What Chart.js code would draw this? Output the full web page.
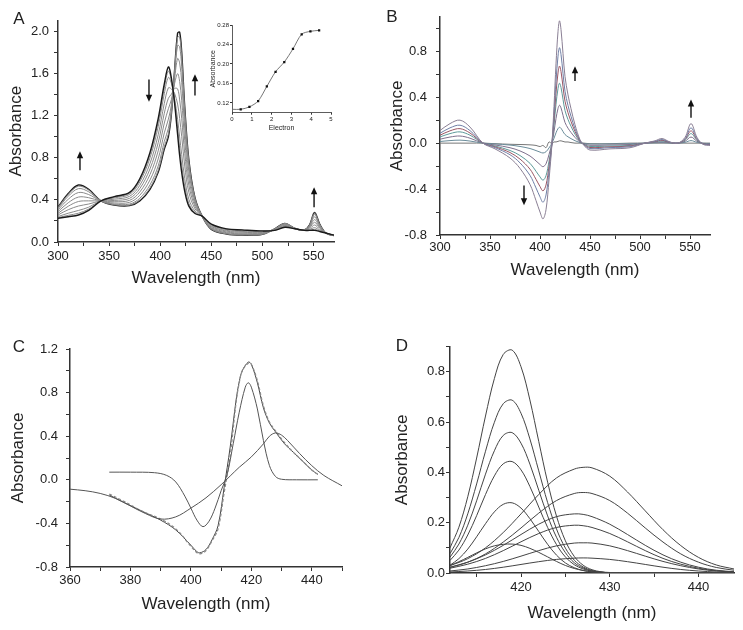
<!DOCTYPE html>
<html>
<head>
<meta charset="utf-8">
<script src="https://cdn.jsdelivr.net/npm/chart.js@4.4.1/dist/chart.umd.min.js"></script>
<style>
  html, body { margin: 0; padding: 0; background: #fff; }
  #sheet { position: relative; width: 743px; height: 630px; overflow: hidden; background: #fff; }
  #sheet canvas { position: absolute; }
</style>
</head>
<body>
<div id="sheet">
  <canvas id="panelA" width="350" height="300" style="left:0;top:0"></canvas>
  <canvas id="panelB" width="373" height="300" style="left:370px;top:0"></canvas>
  <canvas id="panelC" width="370" height="330" style="left:0;top:300px"></canvas>
  <canvas id="panelD" width="373" height="330" style="left:370px;top:300px"></canvas>
  <canvas id="inset" width="140" height="130" style="left:200px;top:10px"></canvas>
</div>
<script>
// ---- panel A: titration spectra ----
const aWave = [300,310,320,330,342,355,370,380,390,398,404,408,411,414,417,419,421,424,428,434,441,450,465,480,500,512,522,532,541,546,551,556,562,570];
const aStart = [0.225,0.24,0.256,0.30,0.39,0.43,0.47,0.60,0.85,1.17,1.50,1.66,1.55,1.32,1.02,0.82,0.66,0.48,0.34,0.27,0.245,0.17,0.125,0.115,0.105,0.11,0.14,0.125,0.11,0.11,0.11,0.10,0.085,0.065];
const aStep1 = [0.231,0.253,0.273,0.312,0.39,0.425,0.463,0.587,0.829,1.139,1.463,1.620,1.530,1.338,1.078,0.890,0.728,0.528,0.366,0.279,0.245,0.167,0.122,0.112,0.103,0.111,0.142,0.125,0.11,0.113,0.120,0.104,0.085,0.065];
const aStep2 = [0.241,0.273,0.299,0.330,0.39,0.418,0.451,0.569,0.798,1.094,1.407,1.561,1.501,1.365,1.164,0.996,0.831,0.600,0.406,0.293,0.245,0.163,0.118,0.108,0.100,0.112,0.146,0.125,0.111,0.118,0.136,0.111,0.085,0.064];
const aStep3 = [0.257,0.306,0.341,0.360,0.39,0.406,0.433,0.537,0.745,1.017,1.314,1.462,1.451,1.410,1.308,1.171,1.002,0.720,0.472,0.315,0.245,0.155,0.110,0.100,0.095,0.115,0.151,0.126,0.112,0.125,0.161,0.121,0.085,0.064];
const aStep4 = [0.272,0.339,0.384,0.390,0.39,0.394,0.414,0.506,0.693,0.941,1.221,1.363,1.402,1.455,1.452,1.347,1.173,0.840,0.538,0.338,0.245,0.148,0.103,0.093,0.090,0.117,0.157,0.126,0.112,0.133,0.187,0.132,0.085,0.063];
const aStep5 = [0.288,0.372,0.426,0.420,0.39,0.382,0.395,0.474,0.640,0.864,1.128,1.264,1.352,1.500,1.596,1.522,1.344,0.960,0.604,0.360,0.245,0.140,0.095,0.085,0.085,0.119,0.162,0.127,0.113,0.140,0.212,0.142,0.085,0.062];
const aStep6 = [0.304,0.405,0.469,0.450,0.39,0.370,0.376,0.443,0.588,0.788,1.035,1.165,1.303,1.545,1.740,1.698,1.515,1.080,0.670,0.383,0.245,0.133,0.088,0.078,0.080,0.121,0.168,0.127,0.114,0.148,0.238,0.153,0.085,0.061];
const aStep7 = [0.317,0.434,0.506,0.476,0.39,0.360,0.360,0.415,0.542,0.721,0.954,1.079,1.260,1.584,1.865,1.850,1.663,1.184,0.727,0.402,0.245,0.126,0.081,0.071,0.076,0.123,0.173,0.128,0.114,0.154,0.260,0.162,0.085,0.061];
const aStep8 = [0.326,0.451,0.529,0.492,0.39,0.353,0.350,0.398,0.514,0.680,0.905,1.026,1.233,1.608,1.942,1.943,1.754,1.248,0.762,0.414,0.245,0.122,0.077,0.067,0.073,0.124,0.176,0.128,0.115,0.158,0.273,0.167,0.085,0.060];
const aEnd = [0.33,0.46,0.54,0.50,0.39,0.35,0.345,0.39,0.50,0.66,0.88,1.00,1.22,1.62,1.98,1.99,1.80,1.28,0.78,0.42,0.245,0.12,0.075,0.065,0.072,0.125,0.177,0.128,0.115,0.16,0.28,0.17,0.085,0.06];
const aXTicks = [300,325,350,375,400,425,450,475,500,525,550];
const aXLabels = [300,350,400,450,500,550];
const aYTicks = [0,0.2,0.4,0.6,0.8,1.0,1.2,1.4,1.6,1.8,2.0];
const aYLabels = [0,0.4,0.8,1.2,1.6,2.0];
const aArrows = [[321.5, 0.68, 0.86], [389, 1.54, 1.33], [434, 1.39, 1.59], [550.5, 0.33, 0.52]];

// ---- inset of A ----
const insetElectron = [0, 0.44, 0.88, 1.32, 1.76, 2.2, 2.64, 3.08, 3.52, 3.96, 4.4];
const insetAbs = [0.107, 0.107, 0.112, 0.124, 0.154, 0.184, 0.204, 0.231, 0.261, 0.267, 0.269];
const insetXTicks = [0, 1, 2, 3, 4, 5];
const insetYTicks = [0.12, 0.16, 0.20, 0.24, 0.28];

// ---- panel B: difference spectra ----
const bWave = [300,310,320,330,343,355,370,380,390,396,400,403,406,409,412,414,416,418,419.5,421,423,425,428,431,435,440,444,450,470,490,505,515,522,530,538,545,551,557,563,570];
const bDiff1 = [0.11,0.17,0.20,0.14,0.0,-0.05,-0.13,-0.22,-0.36,-0.50,-0.60,-0.66,-0.58,-0.32,0.0,0.32,0.69,0.97,1.065,0.99,0.78,0.58,0.42,0.30,0.16,0.03,-0.02,-0.06,-0.05,-0.04,0.0,0.02,0.04,0.01,0.0,0.05,0.17,0.05,-0.01,-0.02];
const bDiff2 = [0.086,0.133,0.156,0.109,0.0,-0.039,-0.101,-0.172,-0.281,-0.39,-0.468,-0.515,-0.452,-0.25,0.0,0.25,0.538,0.757,0.831,0.772,0.608,0.452,0.328,0.234,0.125,0.023,-0.016,-0.047,-0.039,-0.031,0.0,0.016,0.031,0.008,0.0,0.039,0.133,0.039,-0.008,-0.016];
const bDiff3 = [0.069,0.107,0.126,0.088,0.0,-0.032,-0.082,-0.139,-0.227,-0.315,-0.378,-0.416,-0.365,-0.202,0.0,0.202,0.435,0.611,0.671,0.624,0.491,0.365,0.265,0.189,0.101,0.019,-0.013,-0.038,-0.032,-0.025,0.0,0.013,0.025,0.006,0.0,0.032,0.107,0.032,-0.006,-0.013];
const bDiff4 = [0.054,0.083,0.098,0.069,0.0,-0.025,-0.064,-0.108,-0.176,-0.245,-0.294,-0.323,-0.284,-0.157,0.0,0.157,0.338,0.475,0.522,0.485,0.382,0.284,0.206,0.147,0.078,0.015,-0.01,-0.029,-0.025,-0.02,0.0,0.01,0.02,0.005,0.0,0.025,0.083,0.025,-0.005,-0.01];
const bDiff5 = [0.034,0.053,0.062,0.043,0.0,-0.016,-0.04,-0.068,-0.112,-0.155,-0.186,-0.205,-0.18,-0.099,0.0,0.099,0.214,0.301,0.33,0.307,0.242,0.18,0.13,0.093,0.05,0.009,-0.006,-0.019,-0.016,-0.012,0.0,0.006,0.012,0.003,0.0,0.016,0.053,0.016,-0.003,-0.006];
const bDiff6 = [0.014,0.022,0.026,0.018,0.0,-0.007,-0.017,-0.029,-0.047,-0.065,-0.078,-0.086,-0.075,-0.042,0.0,0.042,0.09,0.126,0.138,0.129,0.101,0.075,0.055,0.039,0.021,0.004,-0.003,-0.008,-0.007,-0.005,0.0,0.003,0.005,0.001,0.0,0.007,0.022,0.007,-0.001,-0.003];
const bDiff7 = [0.0,0.0,0.0,0.0,0.0,-0.005,-0.01,-0.012,-0.015,-0.02,-0.03,-0.02,-0.04,0.01,-0.005,0.01,0.01,0.015,0.02,0.02,0.015,0.01,0.01,0.005,0.0,0.0,0.0,-0.005,-0.005,0.0,0,0,0,0,0,0,0,0,0,0];
const bColors = ['#8a7f94', '#6f7fa6', '#9a5664', '#5e9a9a', '#7e6f8c', '#6a8c9a', '#777777'];
const bXTicks = [300,325,350,375,400,425,450,475,500,525,550];
const bXLabels = [300,350,400,450,500,550];
const bYTicks = [-0.8,-0.6,-0.4,-0.2,0,0.2,0.4,0.6,0.8,1.0];
const bYLabels = [-0.8,-0.4,0,0.4,0.8];
const bArrows = [[435, 0.54, 0.67], [384, -0.37, -0.54], [551, 0.22, 0.38]];

// ---- panel C: deconvolution ----
const cWideWave = [360,365,370,375,380,385,390,395,400,405,410,413,416,420,424,426,428,430,432,436,440,444,450];
const cWide = [-0.086,-0.10,-0.125,-0.17,-0.24,-0.31,-0.36,-0.34,-0.26,-0.165,-0.045,0.035,0.115,0.21,0.33,0.40,0.43,0.41,0.36,0.24,0.13,0.04,-0.055];
const cNarrowWave = [373,380,388,392,395,398,400,402,404,406,408,410,412,414,416,418,419,420,422,424,426,428,430,435,442];
const cNarrow = [0.07,0.07,0.065,0.04,-0.02,-0.15,-0.26,-0.37,-0.43,-0.38,-0.26,-0.10,0.05,0.33,0.62,0.85,0.89,0.85,0.65,0.36,0.13,0.03,0.005,0,0];
const cSumWave = [373,378,384,390,395,400,402,403,405,407,409,411,413,415,416,417,419,420,422,424,426,428,431,434,437,440,442];
const cSum = [-0.14,-0.21,-0.29,-0.37,-0.46,-0.60,-0.66,-0.67,-0.64,-0.55,-0.42,-0.07,0.30,0.74,0.90,1.00,1.08,1.06,0.89,0.66,0.52,0.44,0.33,0.25,0.17,0.09,0.05];
const cMeasured = [-0.13,-0.20,-0.29,-0.36,-0.45,-0.61,-0.67,-0.68,-0.65,-0.56,-0.45,-0.12,0.22,0.72,0.89,1.00,1.07,1.06,0.91,0.68,0.53,0.45,0.34,0.25,0.17,0.09,0.05];
const cXTicks = [360,370,380,390,400,410,420,430,440,450];
const cXLabels = [360,380,400,420,440];
const cYTicks = [-0.8,-0.6,-0.4,-0.2,0,0.2,0.4,0.6,0.8,1.0,1.2];
const cYLabels = [-0.8,-0.4,0,0.4,0.8,1.2];

// ---- panel D: component bands ----
const dNarrowWave = [412,413,414,415,416,417,418,419,420,421,422,423,424,425,426,427,428,429,430,434,444];
const dNarrow1 = [0.100,0.182,0.303,0.457,0.624,0.773,0.869,0.886,0.820,0.688,0.523,0.361,0.226,0.128,0.066,0.031,0.013,0.005,0.002,0,0];
const dNarrow2 = [0.077,0.141,0.235,0.354,0.484,0.599,0.673,0.687,0.635,0.533,0.406,0.280,0.175,0.099,0.051,0.024,0.010,0.004,0.001,0,0];
const dNarrow3 = [0.063,0.115,0.190,0.287,0.393,0.486,0.547,0.558,0.516,0.433,0.329,0.227,0.142,0.081,0.041,0.020,0.008,0.003,0.001,0,0];
const dNarrow4 = [0.050,0.091,0.151,0.228,0.312,0.386,0.434,0.443,0.410,0.344,0.262,0.181,0.113,0.064,0.033,0.016,0.007,0.003,0.001,0,0];
const dNarrow5 = [0.031,0.057,0.095,0.144,0.196,0.243,0.273,0.279,0.258,0.216,0.165,0.114,0.071,0.040,0.021,0.010,0.004,0.002,0.001,0,0];
const dNarrow6 = [0.030,0.045,0.062,0.080,0.096,0.108,0.114,0.115,0.110,0.098,0.082,0.064,0.046,0.030,0.018,0.010,0.005,0.002,0.001,0,0];
const dWideWave = [412,414,416,418,420,422,424,426,427,428,430,432,434,436,438,440,442,444];
const dWide1 = [0.029,0.057,0.100,0.161,0.235,0.312,0.378,0.413,0.420,0.418,0.385,0.322,0.247,0.172,0.109,0.062,0.032,0.016];
const dWide2 = [0.022,0.043,0.076,0.123,0.179,0.238,0.288,0.316,0.320,0.316,0.288,0.238,0.179,0.123,0.076,0.043,0.022,0.011];
const dWide3 = [0.023,0.043,0.072,0.110,0.153,0.194,0.224,0.235,0.233,0.224,0.194,0.153,0.110,0.072,0.043,0.023,0.011,0.005];
const dWide4 = [0.019,0.035,0.058,0.089,0.124,0.157,0.181,0.190,0.188,0.181,0.157,0.124,0.089,0.058,0.035,0.019,0.009,0.004];
const dWide5 = [0.008,0.016,0.029,0.046,0.067,0.089,0.108,0.119,0.120,0.119,0.108,0.089,0.067,0.046,0.029,0.016,0.008,0.004];
const dWide6 = [0.004,0.008,0.014,0.023,0.034,0.045,0.054,0.059,0.060,0.059,0.054,0.045,0.034,0.023,0.014,0.008,0.004,0.002];
const dXTicks = [415,420,425,430,435,440];
const dXLabels = [420,430,440];
const dYTicks = [0,0.1,0.2,0.3,0.4,0.5,0.6,0.7,0.8,0.9];
const dYLabels = [0,0.2,0.4,0.6,0.8];

const AXIS = '#333';
const TEXT = '#222';
Chart.defaults.font.family = 'Arial, "Liberation Sans", Helvetica, sans-serif';
Chart.defaults.color = TEXT;

const pts = (xs, ys) => xs.map((x, i) => ({ x, y: ys[i] }));

function curve(xs, ys, color, width, dash) {
    return {
        data: pts(xs, ys),
        borderColor: color,
        borderWidth: width,
        borderDash: dash || [],
        pointRadius: 0,
        fill: false,
        tension: 0.35
    };
}

function axis(c) {
    return {
        type: 'linear',
        min: c.min,
        max: c.max,
        afterBuildTicks: s => { s.ticks = c.ticks.map(v => ({ value: v })); },
        afterFit: s => { if (s.isHorizontal()) s.height = c.size; else s.width = c.size; },
        grid: { drawOnChartArea: false, drawTicks: true, tickLength: c.tickLen || 4, color: AXIS, lineWidth: 1 },
        border: { display: true, color: AXIS, width: c.border || 1.5 },
        ticks: {
            autoSkip: false,
            maxRotation: 0,
            padding: c.pad,
            font: { size: c.font || 13 },
            color: TEXT,
            callback: v => c.labels.includes(v) ? c.fmt(v) : ''
        },
        title: { display: true, text: c.title, font: { size: c.titleSize || 17 }, color: TEXT, padding: c.titlePad }
    };
}

// letters + arrows, placed through the chart's own scales
const decor = {
    id: 'decor',
    afterDraw(chart, args, o) {
        const { ctx } = chart;
        const x = chart.scales.x, y = chart.scales.y;
        ctx.save();
        if (o.letter) {
            ctx.font = '17px Arial, "Liberation Sans", sans-serif';
            ctx.fillStyle = TEXT;
            ctx.textAlign = 'center';
            ctx.textBaseline = 'middle';
            ctx.fillText(o.letter, o.lx, o.ly);
        }
        (o.arrows || []).forEach(a => {
            const px = x.getPixelForValue(a[0]);
            const y0 = y.getPixelForValue(a[1]);
            const y1 = y.getPixelForValue(a[2]);
            const dir = y1 < y0 ? 1 : -1;
            ctx.strokeStyle = '#111';
            ctx.fillStyle = '#111';
            ctx.lineWidth = 1.4;
            ctx.beginPath();
            ctx.moveTo(px, y0);
            ctx.lineTo(px, y1 + dir * 5);
            ctx.stroke();
            ctx.beginPath();
            ctx.moveTo(px, y1);
            ctx.lineTo(px - 3.2, y1 + dir * 7);
            ctx.lineTo(px + 3.2, y1 + dir * 7);
            ctx.closePath();
            ctx.fill();
        });
        ctx.restore();
    }
};

function makeChart(id, datasets, pad, xAxis, yAxis, deco) {
    return new Chart(document.getElementById(id), {
        type: 'line',
        data: { datasets },
        options: {
            responsive: false,
            animation: false,
            layout: { padding: { top: pad.top, right: pad.right, left: 0, bottom: 0 } },
            scales: { x: xAxis, y: yAxis },
            plugins: { legend: { display: false }, tooltip: { enabled: false }, decor: deco }
        },
        plugins: [decor]
    });
}

const f1 = v => (Math.round(v * 10) / 10).toFixed(1);
const f0 = v => String(v);

// panel A
const aSeries = [aStep1, aStep2, aStep3, aStep4, aStep5, aStep6, aStep7, aStep8];
makeChart('panelA',
    [curve(aWave, aStart, '#1a1a1a', 1.4)]
        .concat(aSeries.map(s => curve(aWave, s, '#8a8a8a', 1)))
        .concat([curve(aWave, aEnd, '#1a1a1a', 1.4)]),
    { top: 20.5, right: 16 },
    axis({ min: 300, max: 570, ticks: aXTicks, labels: aXLabels, fmt: f0, size: 58, pad: 3,
           title: 'Wavelength (nm)', titlePad: { top: 0, bottom: 11.8 } }),
    axis({ min: 0, max: 2.1, ticks: aYTicks, labels: aYLabels, fmt: f1, size: 58, pad: 5,
           title: 'Absorbance', titlePad: { top: 6.5, bottom: 0 } }),
    { letter: 'A', lx: 19, ly: 19, arrows: aArrows });

// inset
new Chart(document.getElementById('inset'), {
    type: 'line',
    data: {
        datasets: [{
            data: pts(insetElectron, insetAbs),
            borderColor: '#666',
            borderWidth: 0.9,
            tension: 0.3,
            pointStyle: 'rect',
            pointRadius: ctx => ctx.dataIndex === 0 ? 0 : 1.6,
            pointBackgroundColor: '#111',
            pointBorderColor: '#111',
            pointBorderWidth: 0
        }]
    },
    options: {
        responsive: false,
        animation: false,
        layout: { padding: { top: 15, right: 9, left: 0, bottom: 0 } },
        scales: {
            x: axis({ min: 0, max: 5, ticks: insetXTicks, labels: insetXTicks, fmt: f0, size: 27.3, pad: 0.7,
                      tickLen: 2, font: 6, border: 0.8, title: 'Electron', titleSize: 7, titlePad: { top: 0, bottom: 7.8 } }),
            y: axis({ min: 0.10, max: 0.28, ticks: insetYTicks, labels: insetYTicks, fmt: v => v.toFixed(2), size: 32, pad: 1,
                      tickLen: 2, font: 6, border: 0.8, title: 'Absorbance', titleSize: 7, titlePad: { top: 8.8, bottom: 0 } })
        },
        plugins: { legend: { display: false }, tooltip: { enabled: false } }
    }
});

// panel B
const bSeries = [bDiff1, bDiff2, bDiff3, bDiff4, bDiff5, bDiff6, bDiff7];
makeChart('panelB',
    bSeries.map((s, i) => curve(bWave, s, bColors[i], 1)),
    { top: 12, right: 33 },
    axis({ min: 300, max: 570, ticks: bXTicks, labels: bXLabels, fmt: f0, size: 65, pad: 0.2,
           title: 'Wavelength (nm)', titlePad: { top: 0, bottom: 19.8 } }),
    axis({ min: -0.8, max: 1.1, ticks: bYTicks, labels: bYLabels, fmt: f1, size: 70, pad: 9,
           title: 'Absorbance', titlePad: { top: 16.8, bottom: 0 } }),
    { letter: 'B', lx: 22, ly: 17, arrows: bArrows });

// panel C
makeChart('panelC',
    [
        curve(cWideWave, cWide, '#555', 1),
        curve(cNarrowWave, cNarrow, '#555', 1),
        curve(cSumWave, cMeasured, '#8a8a8a', 1.2, [3, 2]),
        curve(cSumWave, cSum, '#444', 1)
    ],
    { top: 49, right: 28 },
    axis({ min: 360, max: 450, ticks: cXTicks, labels: cXLabels, fmt: f0, size: 63, pad: 1.2,
           title: 'Wavelength (nm)', titlePad: { top: 0, bottom: 15.8 } }),
    axis({ min: -0.8, max: 1.2, ticks: cYTicks, labels: cYLabels, fmt: f1, size: 70, pad: 8,
           title: 'Absorbance', titlePad: { top: 7.8, bottom: 0 } }),
    { letter: 'C', lx: 19, ly: 47 });

// panel D
const dNarrowSet = [dNarrow1, dNarrow2, dNarrow3, dNarrow4, dNarrow5, dNarrow6];
const dWideSet = [dWide1, dWide2, dWide3, dWide4, dWide5, dWide6];
makeChart('panelD',
    dNarrowSet.map(s => curve(dNarrowWave, s, '#444', 1))
        .concat(dWideSet.map(s => curve(dWideWave, s, '#444', 1))),
    { top: 46.6, right: 9 },
    axis({ min: 412, max: 444, ticks: dXTicks, labels: dXLabels, fmt: f0, size: 57, pad: 2.2,
           title: 'Wavelength (nm)', titlePad: { top: 0, bottom: 6.8 } }),
    axis({ min: 0, max: 0.9, ticks: dYTicks, labels: dYLabels, fmt: f1, size: 80, pad: 1,
           title: 'Absorbance', titlePad: { top: 21.8, bottom: 0 } }),
    { letter: 'D', lx: 32, ly: 46 });
</script>
</body>
</html>
